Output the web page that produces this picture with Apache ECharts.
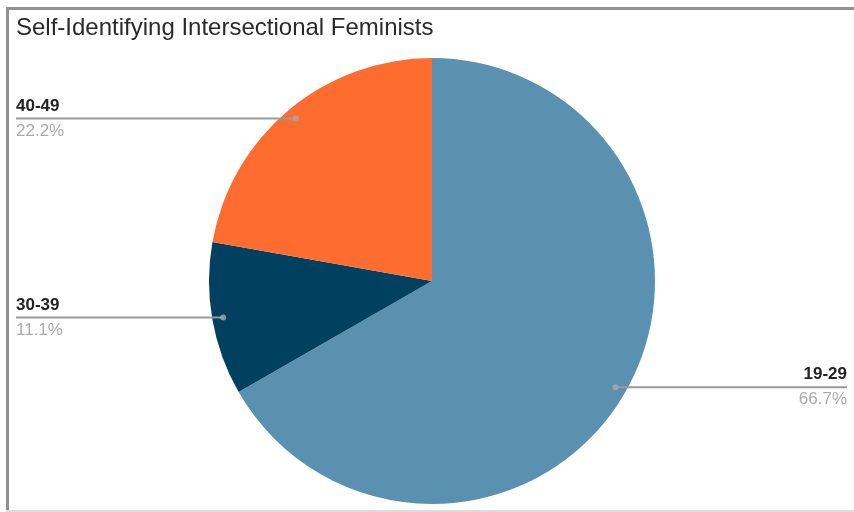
<!DOCTYPE html>
<html>
<head>
<meta charset="utf-8">
<script src="https://cdn.jsdelivr.net/npm/echarts@6/dist/echarts.min.js"></script>
<style>
html,body{margin:0;padding:0;background:#fff;}
#wrap{position:relative;width:854px;height:512px;overflow:hidden;}
#chart{position:absolute;left:0;top:0;width:854px;height:512px;}
.b{position:absolute;pointer-events:none;}
</style>
</head>
<body>
<div id="wrap">
<div id="chart"></div>
<div class="b" style="left:6px;top:7px;width:848px;height:3px;background:#929292;"></div>
<div class="b" style="left:6px;top:7px;width:3px;height:505px;background:#929292;"></div>
<div class="b" style="left:6px;top:510px;width:848px;height:2px;background:#dcdcdc;"></div>
</div>
<script>
const titleText = 'Self-Identifying Intersectional Feminists';
const categories = ['19-29', '30-39', '40-49'];
const values = [66.7, 11.1, 22.2];
const colors = ['#5a91b0', '#01405f', '#fe6c30'];

const total = values.reduce((a, b) => a + b, 0);
const mids = [];
let acc = 0;
values.forEach(v => { mids.push(acc + v / 2); acc += v; });

const chart = echarts.init(document.getElementById('chart'));
const center = [432, 281];

chart.setOption({
  animation: false,
  title: {
    text: titleText,
    left: 11,
    top: 11,
    textStyle: { fontFamily: 'Liberation Sans, Arial', fontSize: 24, fontWeight: 'normal', color: '#2a2a2a' }
  },
  polar: { center: center, radius: 223 },
  angleAxis: { type: 'value', min: 0, max: total, startAngle: 90, clockwise: true, show: false },
  radiusAxis: { type: 'value', min: 0, max: 223, show: false },
  series: [
    {
      type: 'pie',
      center: center,
      radius: 223,
      startAngle: 90,
      clockwise: true,
      silent: true,
      label: { show: false },
      labelLine: { show: false },
      data: categories.map((c, i) => ({ name: c, value: values[i], itemStyle: { color: colors[i] } }))
    },
    {
      type: 'pie',
      center: center,
      radius: 212,
      startAngle: 90,
      clockwise: true,
      silent: true,
      z: 5,
      avoidLabelOverlap: true,
      itemStyle: { color: 'rgba(0,0,0,0)' },
      label: {
        show: true,
        position: 'outside',
        alignTo: 'edge',
        edgeDistance: 16,
        distanceToLabelLine: 0,
        formatter: p => '{n|' + p.name + '}\n{l|}\n{p|' + p.value.toFixed(1) + '%}',
        rich: {
          n: { fontFamily: 'Liberation Sans, Arial', fontSize: 17, fontWeight: 'bold', color: '#222', lineHeight: 23 },
          l: { width: 50, height: 2, lineHeight: 2, backgroundColor: '#9a9a9a' },
          p: { fontFamily: 'Liberation Sans, Arial', fontSize: 17, color: '#aaaaaa', lineHeight: 23 }
        }
      },
      labelLine: { show: true, length: 0, length2: 10, lineStyle: { color: '#9a9a9a', width: 2 } },
      data: categories.map((c, i) => ({
        name: c, value: values[i],
        label: { edgeDistance: i === 0 ? 7 : 16 }
      }))
    },
    {
      type: 'scatter',
      coordinateSystem: 'polar',
      symbolSize: 6,
      z: 6,
      silent: true,
      itemStyle: { color: '#a9a9a9' },
      data: mids.map(m => [212, m])
    }
  ]
});
</script>
</body>
</html>
